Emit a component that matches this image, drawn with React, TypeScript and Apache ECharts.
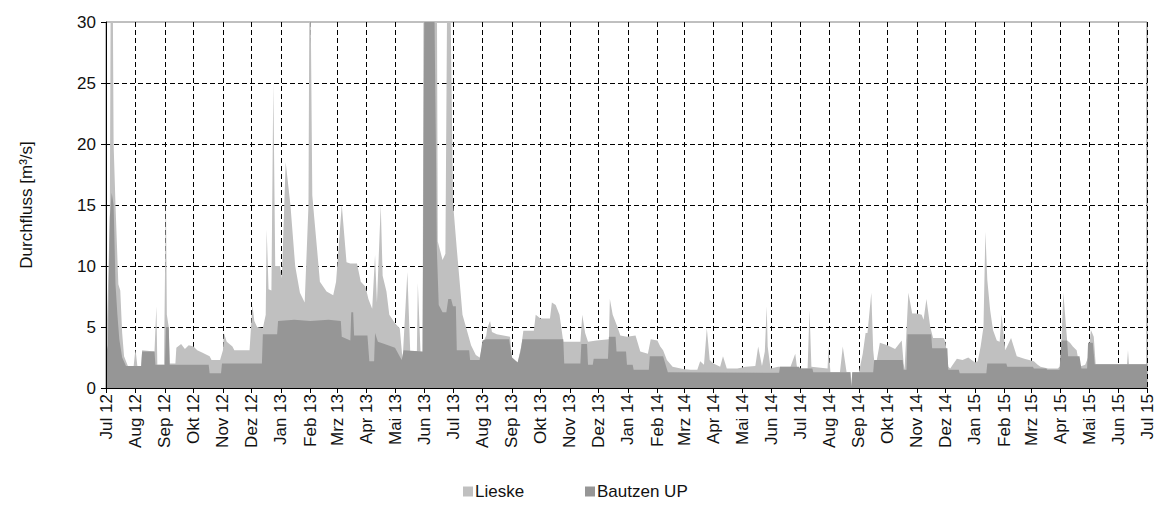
import React, { useEffect, useRef } from "react";
import * as echarts from "echarts";

// Daily discharge, Jul 2012 – Jul 2015 (m³/s). Values between listed days follow the line.
const lieske: [string, number][] = [
  ["2012-07-01", 2.8], ["2012-07-03", 8], ["2012-07-05", 14], ["2012-07-06", 34], ["2012-07-08", 34],
  ["2012-07-09", 20], ["2012-07-11", 15], ["2012-07-14", 8.5], ["2012-07-16", 8], ["2012-07-18", 4.5],
  ["2012-07-20", 2.6], ["2012-07-24", 1.8], ["2012-07-30", 1.75], ["2012-08-01", 3.2], ["2012-08-03", 1.8],
  ["2012-08-07", 1.8], ["2012-08-08", 3.1], ["2012-08-21", 3.0], ["2012-08-23", 6.7], ["2012-08-24", 1.9],
  ["2012-08-31", 1.9], ["2012-09-02", 16], ["2012-09-03", 6], ["2012-09-05", 5], ["2012-09-06", 2.0],
  ["2012-09-12", 2.0], ["2012-09-13", 3.3], ["2012-09-18", 3.6], ["2012-09-22", 3.2], ["2012-09-26", 3.5],
  ["2012-10-01", 3.4], ["2012-10-05", 3.1], ["2012-10-10", 2.9], ["2012-10-18", 2.6], ["2012-10-20", 2.3],
  ["2012-10-29", 2.3], ["2012-11-01", 3.1], ["2012-11-02", 4.5], ["2012-11-05", 3.8], ["2012-11-11", 3.4],
  ["2012-11-13", 3.1], ["2012-11-29", 3.1], ["2012-12-02", 6.8], ["2012-12-04", 5.5], ["2012-12-07", 5.0],
  ["2012-12-13", 4.9], ["2012-12-16", 6], ["2012-12-17", 13], ["2012-12-19", 8.1], ["2012-12-22", 8.0],
  ["2012-12-24", 25], ["2012-12-26", 10], ["2012-12-31", 10], ["2013-01-02", 9], ["2013-01-06", 18.5],
  ["2013-01-11", 15], ["2013-01-16", 10], ["2013-01-21", 7.8], ["2013-01-26", 7.0], ["2013-01-30", 15],
  ["2013-01-31", 34], ["2013-02-01", 34], ["2013-02-03", 15.8], ["2013-02-05", 14], ["2013-02-08", 11.4],
  ["2013-02-11", 8.7], ["2013-02-18", 7.9], ["2013-02-25", 7.6], ["2013-02-28", 8.7], ["2013-03-06", 15],
  ["2013-03-11", 10.3], ["2013-03-15", 10.2], ["2013-03-22", 10.2], ["2013-03-26", 8.7], ["2013-03-31", 8.3],
  ["2013-04-03", 7.3], ["2013-04-07", 6.5], ["2013-04-10", 10.9], ["2013-04-12", 7], ["2013-04-16", 15],
  ["2013-04-18", 9.2], ["2013-04-22", 7.9], ["2013-04-25", 6.0], ["2013-05-01", 5.3], ["2013-05-06", 4.9],
  ["2013-05-09", 2.3], ["2013-05-14", 9.5], ["2013-05-17", 3.0], ["2013-05-24", 3.0], ["2013-05-25", 8.6],
  ["2013-05-28", 2.6], ["2013-05-30", 2.6], ["2013-05-31", 34], ["2013-06-14", 34], ["2013-06-15", 12],
  ["2013-06-20", 10.5], ["2013-06-23", 11], ["2013-06-25", 34], ["2013-06-28", 34], ["2013-07-01", 15.2],
  ["2013-07-05", 11.4], ["2013-07-08", 8.7], ["2013-07-11", 6.0], ["2013-07-15", 4.9], ["2013-07-20", 3.5],
  ["2013-07-25", 2.7], ["2013-07-29", 2.5], ["2013-08-02", 3.8], ["2013-08-05", 4.3], ["2013-08-06", 4.9],
  ["2013-08-09", 5.5], ["2013-08-11", 4.6], ["2013-08-16", 4.4], ["2013-08-30", 4.2], ["2013-09-01", 2.5],
  ["2013-09-07", 2.1], ["2013-09-11", 3.5], ["2013-09-13", 4.7], ["2013-09-24", 4.7], ["2013-09-26", 6.0],
  ["2013-10-01", 5.7], ["2013-10-11", 5.7], ["2013-10-13", 7.0], ["2013-10-17", 6.8], ["2013-10-21", 6.0],
  ["2013-10-25", 3.8], ["2013-11-12", 3.8], ["2013-11-14", 6.0], ["2013-11-17", 4.5], ["2013-11-20", 3.8],
  ["2013-11-29", 3.9], ["2013-12-12", 4.0], ["2013-12-13", 7.3], ["2013-12-16", 6.0], ["2013-12-21", 5.0],
  ["2013-12-24", 4.3], ["2013-12-31", 4.2], ["2014-01-09", 4.3], ["2014-01-14", 3.0], ["2014-01-22", 2.8],
  ["2014-01-25", 4.0], ["2014-02-01", 3.9], ["2014-02-04", 3.4], ["2014-02-07", 3.1], ["2014-02-11", 2.3],
  ["2014-02-17", 1.75], ["2014-02-28", 1.56], ["2014-03-08", 1.5], ["2014-03-15", 1.5], ["2014-03-18", 2.2],
  ["2014-03-22", 1.9], ["2014-03-25", 4.9], ["2014-03-28", 2.3], ["2014-04-01", 2.0], ["2014-04-08", 1.75],
  ["2014-04-11", 2.6], ["2014-04-15", 1.6], ["2014-04-26", 1.6], ["2014-05-05", 1.75], ["2014-05-15", 1.8],
  ["2014-05-18", 3.4], ["2014-05-22", 1.8], ["2014-05-25", 3.0], ["2014-05-27", 6.7], ["2014-05-28", 3.4],
  ["2014-05-31", 1.6], ["2014-06-08", 1.75], ["2014-06-21", 1.75], ["2014-06-26", 2.8], ["2014-06-28", 1.6],
  ["2014-07-09", 1.6], ["2014-07-11", 6.4], ["2014-07-13", 1.75], ["2014-07-30", 1.6], ["2014-07-31", 3.4],
  ["2014-08-02", 1.3], ["2014-08-12", 1.3], ["2014-08-15", 3.4], ["2014-08-19", 1.3], ["2014-08-23", 1.3],
  ["2014-08-24", 0.1], ["2014-08-25", 1.3], ["2014-09-01", 1.3], ["2014-09-05", 2.8], ["2014-09-08", 4.5],
  ["2014-09-10", 4.5], ["2014-09-14", 7.8], ["2014-09-16", 3.1], ["2014-09-18", 1.5], ["2014-09-23", 3.7],
  ["2014-10-01", 3.5], ["2014-10-09", 3.2], ["2014-10-16", 3.9], ["2014-10-18", 2.0], ["2014-10-19", 1.5],
  ["2014-10-23", 7.8], ["2014-10-27", 6.1], ["2014-11-01", 6.1], ["2014-11-06", 6.0], ["2014-11-08", 5.6],
  ["2014-11-11", 7.3], ["2014-11-15", 5.0], ["2014-11-18", 4.1], ["2014-11-29", 4.1], ["2014-12-01", 3.8],
  ["2014-12-04", 1.75], ["2014-12-06", 1.6], ["2014-12-13", 2.4], ["2014-12-19", 2.3], ["2014-12-25", 2.5],
  ["2015-01-01", 2.1], ["2015-01-04", 2.2], ["2015-01-07", 3.4], ["2015-01-10", 5], ["2015-01-12", 12.8],
  ["2015-01-14", 8.9], ["2015-01-17", 6.4], ["2015-01-20", 4.75], ["2015-01-24", 3.9], ["2015-01-27", 3.8],
  ["2015-01-29", 6.0], ["2015-02-02", 3.1], ["2015-02-08", 4.1], ["2015-02-14", 2.6], ["2015-02-22", 2.4],
  ["2015-03-04", 2.2], ["2015-03-08", 1.9], ["2015-03-11", 1.75], ["2015-03-19", 1.6], ["2015-03-29", 1.6],
  ["2015-04-01", 1.8], ["2015-04-04", 7.8], ["2015-04-08", 3.9], ["2015-04-11", 3.7], ["2015-04-14", 3.4],
  ["2015-04-18", 3.1], ["2015-04-21", 1.75], ["2015-04-27", 1.9], ["2015-04-30", 2.5], ["2015-05-03", 4.75],
  ["2015-05-06", 4.2], ["2015-05-08", 1.95], ["2015-06-10", 1.95], ["2015-06-11", 3.1], ["2015-06-12", 1.95],
  ["2015-07-01", 1.95],
];

const bautzenUP: [string, number][] = [
  ["2012-07-01", 2.8], ["2012-07-03", 3.5], ["2012-07-05", 14], ["2012-07-07", 16], ["2012-07-09", 15],
  ["2012-07-11", 8.5], ["2012-07-13", 6], ["2012-07-15", 4], ["2012-07-18", 2.5], ["2012-07-22", 1.8],
  ["2012-08-07", 1.8], ["2012-08-08", 3.0], ["2012-08-21", 3.0], ["2012-08-22", 1.9], ["2012-09-01", 1.9],
  ["2012-09-02", 5.0], ["2012-09-05", 5.0], ["2012-09-06", 1.9], ["2012-10-17", 1.9], ["2012-10-18", 1.2],
  ["2012-10-30", 1.2], ["2012-10-31", 2.0], ["2012-12-12", 2.0], ["2012-12-13", 4.4], ["2012-12-28", 4.4],
  ["2012-12-29", 5.5], ["2013-01-15", 5.6], ["2013-02-01", 5.5], ["2013-02-20", 5.6], ["2013-03-05", 5.5],
  ["2013-03-06", 4.2], ["2013-03-12", 4.0], ["2013-03-15", 3.9], ["2013-03-16", 6.2], ["2013-03-18", 6.2],
  ["2013-03-19", 4.3], ["2013-04-02", 4.3], ["2013-04-04", 2.2], ["2013-04-09", 2.2], ["2013-04-10", 4.5],
  ["2013-04-13", 3.8], ["2013-04-20", 3.6], ["2013-05-01", 3.3], ["2013-05-08", 2.3], ["2013-05-10", 3.1],
  ["2013-05-30", 3.0], ["2013-06-01", 34], ["2013-06-11", 34], ["2013-06-13", 20], ["2013-06-14", 11.4],
  ["2013-06-16", 6.8], ["2013-06-20", 6.2], ["2013-06-24", 6.2], ["2013-06-26", 7.3], ["2013-06-29", 7.3],
  ["2013-07-01", 6.7], ["2013-07-04", 6.7], ["2013-07-05", 3.1], ["2013-07-18", 3.1], ["2013-07-19", 2.3],
  ["2013-07-29", 2.3], ["2013-08-01", 3.9], ["2013-08-05", 4.0], ["2013-08-29", 4.0], ["2013-09-01", 2.5],
  ["2013-09-07", 2.1], ["2013-09-10", 3.0], ["2013-09-12", 4.0], ["2013-10-25", 4.0], ["2013-10-26", 2.0],
  ["2013-11-12", 2.0], ["2013-11-13", 3.6], ["2013-11-19", 3.6], ["2013-11-20", 1.9], ["2013-11-25", 1.9],
  ["2013-11-26", 2.4], ["2013-12-11", 2.4], ["2013-12-12", 4.2], ["2013-12-19", 4.2], ["2013-12-20", 3.0],
  ["2013-12-30", 3.0], ["2013-12-31", 1.9], ["2014-01-06", 1.9], ["2014-01-07", 1.5], ["2014-01-23", 1.5],
  ["2014-01-24", 2.6], ["2014-02-07", 2.6], ["2014-02-12", 1.3], ["2014-06-09", 1.25], ["2014-06-10", 1.75],
  ["2014-06-30", 1.75], ["2014-07-01", 1.6], ["2014-07-14", 1.6], ["2014-07-15", 1.3], ["2014-08-23", 1.3],
  ["2014-08-24", 0.1], ["2014-08-25", 1.3], ["2014-09-16", 1.3], ["2014-09-17", 2.3], ["2014-10-17", 2.3],
  ["2014-10-18", 1.5], ["2014-10-21", 1.5], ["2014-10-22", 4.4], ["2014-11-16", 4.4], ["2014-11-17", 3.25],
  ["2014-12-03", 3.25], ["2014-12-04", 1.5], ["2014-12-15", 1.5], ["2014-12-16", 1.2], ["2015-01-13", 1.2],
  ["2015-01-14", 2.0], ["2015-02-03", 2.0], ["2015-02-04", 1.75], ["2015-03-03", 1.75], ["2015-03-04", 1.6],
  ["2015-03-17", 1.6], ["2015-03-18", 1.5], ["2015-03-31", 1.5], ["2015-04-02", 3.9], ["2015-04-08", 3.9],
  ["2015-04-09", 2.6], ["2015-04-21", 2.6], ["2015-04-23", 1.6], ["2015-04-29", 1.6], ["2015-04-30", 3.7],
  ["2015-05-05", 3.7], ["2015-05-07", 1.95], ["2015-07-01", 1.95],
];

const monthNames = ["Jan", "Feb", "Mrz", "Apr", "Mai", "Jun", "Jul", "Aug", "Sep", "Okt", "Nov", "Dez"];
const seriesNames = ["Lieske", "Bautzen UP"];
const seriesColors = ["#c0c0c0", "#969696"];
const yTicks = { min: 0, max: 30, interval: 5 };

// one category per day, Jul 1 2012 .. Jul 1 2015
const days: string[] = [];
for (let t = Date.UTC(2012, 6, 1); t <= Date.UTC(2015, 6, 1); t += 86400000) {
  days.push(new Date(t).toISOString().slice(0, 10));
}

const isMonthStart = (_i: number, v: string) => v.endsWith("-01");
const monthLabel = (v: string) => `${monthNames[Number(v.slice(5, 7)) - 1]} ${v.slice(2, 4)}`;

const FONT = "'Liberation Sans', Arial, sans-serif";
const TEXT = "#111";

// each legend entry sits in its own equal-width slot
const legendSlots = [458, 580];
const legendFor = (name: string, left: number) => ({
  top: 478,
  left,
  icon: "rect",
  itemWidth: 10,
  itemHeight: 10,
  textStyle: { fontSize: 17, color: TEXT, fontFamily: FONT, padding: [0, 0, 0, -3] },
  data: [name],
});

export default function App() {
  const ref = useRef<HTMLDivElement>(null);

  useEffect(() => {
    if (!ref.current) return;
    const chart = echarts.init(ref.current, undefined, { renderer: "svg" });
    chart.setOption({
      animation: false,
      backgroundColor: "#ffffff",
      textStyle: { fontFamily: FONT },
      grid: {
        left: 106, right: 14, top: 22, bottom: 124,
        show: true, borderColor: "#808080", borderWidth: 1,
      },
      legend: seriesNames.map((n, i) => legendFor(n, legendSlots[i])),
      xAxis: [
        {
          type: "category",
          data: days,
          boundaryGap: false,
          axisLine: { show: false },
          axisTick: { show: false },
          axisLabel: { show: false },
          splitLine: {
            show: true,
            interval: isMonthStart,
            lineStyle: { color: "#000", type: [5, 3], width: 1 },
          },
        },
        {
          type: "category",
          data: days,
          position: "bottom",
          boundaryGap: false,
          z: 10,
          axisLine: { show: true, lineStyle: { color: "#000", width: 1 } },
          axisTick: { show: true, interval: isMonthStart, length: 5, lineStyle: { color: "#000" } },
          axisLabel: {
            show: true,
            interval: isMonthStart,
            formatter: monthLabel,
            rotate: 90,
            margin: 6,
            fontSize: 17,
            color: TEXT,
            fontFamily: FONT,
          },
          splitLine: { show: false },
        },
      ],
      yAxis: [
        {
          type: "value",
          ...yTicks,
          axisLine: { show: false },
          axisTick: { show: false },
          axisLabel: { show: false },
          splitLine: {
            show: true,
            showMaxLine: false,
            lineStyle: { color: "#000", type: [5, 3], width: 1 },
          },
        },
        {
          type: "value",
          ...yTicks,
          position: "left",
          z: 10,
          name: "Durchfluss [m³/s]",
          nameLocation: "middle",
          nameGap: 71,
          nameTextStyle: { fontSize: 17, color: TEXT, fontFamily: FONT },
          axisLine: { show: true, lineStyle: { color: "#000", width: 1 } },
          axisTick: { show: true, length: 5, lineStyle: { color: "#000" } },
          axisLabel: { show: true, margin: 10, fontSize: 17, color: TEXT, fontFamily: FONT },
          splitLine: { show: false },
        },
      ],
      series: [lieske, bautzenUP].map((data, i) => ({
        name: seriesNames[i],
        type: "line",
        data,
        showSymbol: false,
        symbol: "none",
        lineStyle: { width: 0 },
        itemStyle: { color: seriesColors[i] },
        areaStyle: { color: seriesColors[i], opacity: 1 },
        clip: true,
      })),
    });
    return () => chart.dispose();
  }, []);

  return (
    <div
      ref={ref}
      style={{ position: "absolute", left: 0, top: 0, width: 1161, height: 512, background: "#fff" }}
    />
  );
}
